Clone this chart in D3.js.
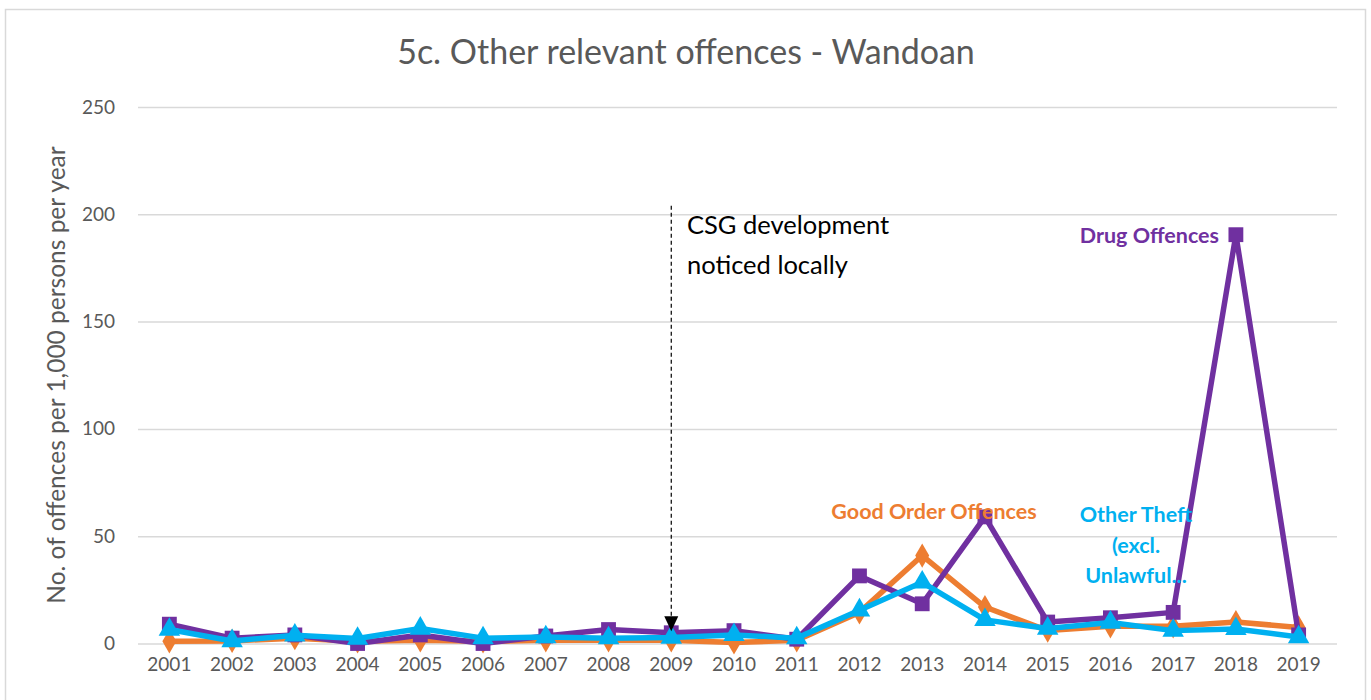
<!DOCTYPE html>
<html>
<head>
<meta charset="utf-8">
<script src="https://cdn.jsdelivr.net/npm/d3@7"></script>
<style>
  body { margin: 0; background: #fff; }
  text { font-family: Lato, "Open Sans", sans-serif; }
</style>
</head>
<body>
<script>
const years = ["2001","2002","2003","2004","2005","2006","2007","2008","2009","2010",
               "2011","2012","2013","2014","2015","2016","2017","2018","2019"]
const drugOffences = [9, 2.5, 4, 0, 4, 0, 3.5, 6.5, 5, 6, 2, 31.5, 18.5, 59, 10, 12, 14.5, 190.5, 4]
const goodOrder = [1, 1.2, 2.5, 1, 1.5, 1, 1.5, 1.5, 1.5, 0.5, 1.5, 14.5, 41, 17, 6, 8, 8, 10, 7.5]
const otherTheft = [6.5, 1.2, 3.8, 2.3, 7, 2.5, 3, 2.5, 2.8, 4, 2.5, 15.5, 28.5, 11, 7, 9.8, 6, 6.8, 3]
const yTicks = [0, 50, 100, 150, 200, 250]

const W = 1371, H = 700
const margin = { top: 107, right: 34, bottom: 57, left: 138 }
const width = W - margin.left - margin.right
const height = H - margin.top - margin.bottom

const svg = d3.select("body").append("svg")
    .attr("width", W)
    .attr("height", H)

// chart border
svg.append("rect")
    .attr("x", 5.5).attr("y", 9.5)
    .attr("width", 1360).attr("height", 700)
    .attr("fill", "none")
    .attr("stroke", "#d9d9d9")
    .attr("stroke-width", 1.5)

const g = svg.append("g")
    .attr("transform", "translate(" + margin.left + "," + margin.top + ")")

let x = d3.scaleBand()
    .domain(years)
    .range([0, width - 7])

let y = d3.scaleLinear()
    .domain([0, 250])
    .range([height + 0.5, 0])

// gridlines
g.append("g")
    .call(d3.axisLeft(y).tickValues(yTicks).tickSize(-width).tickPadding(23))
    .call(a => a.select(".domain").remove())
    .call(a => a.selectAll(".tick line").attr("stroke", "#d9d9d9").attr("stroke-width", 1.5))
    .call(a => a.selectAll(".tick text").attr("fill", "#595959").style("font-size", "19px"))

g.append("g")
    .attr("transform", "translate(0," + height + ")")
    .call(d3.axisBottom(x).tickSize(0).tickPadding(15))
    .call(a => a.select(".domain").remove())
    .call(a => a.selectAll(".tick text").attr("fill", "#595959").style("font-size", "19px"))

// title
svg.append("text")
    .attr("x", 686).attr("y", 64)
    .attr("text-anchor", "middle")
    .attr("fill", "#595959")
    .style("font-size", "34px")
    .text("5c. Other relevant offences - Wandoan")

svg.append("text")
    .attr("transform", "translate(65," + 375 + ") rotate(-90)")
    .attr("text-anchor", "middle")
    .attr("fill", "#595959")
    .style("font-size", "24.5px")
    .text("No. of offences per 1,000 persons per year")

const cx = d => x(d) + x.bandwidth() / 2

// annotation
const ax = cx("2009")
g.append("line")
    .attr("x1", ax).attr("x2", ax)
    .attr("y1", y(204)).attr("y2", y(8))
    .attr("stroke", "#000")
    .attr("stroke-width", 1.2)
    .attr("stroke-dasharray", "4,3")

const series = [
    { name: "Good Order Offences", values: goodOrder, color: "#ED7D31", shape: d3.symbolDiamond, size: 170 },
    { name: "Drug Offences", values: drugOffences, color: "#7030A0", shape: d3.symbolSquare, size: 220 },
    { name: "Other Theft", values: otherTheft, color: "#00B0F0", shape: d3.symbolTriangle, size: 200 }
]

const line = d3.line()
    .x((d, i) => cx(years[i]))
    .y(d => y(d))

series.forEach(s => {
    g.append("path")
        .datum(s.values)
        .attr("d", line)
        .attr("fill", "none")
        .attr("stroke", s.color)
        .attr("stroke-width", 5.5)
        .attr("stroke-linejoin", "round")

    g.append("g")
        .selectAll("path")
        .data(s.values)
        .join("path")
        .attr("transform", (d, i) => "translate(" + cx(years[i]) + "," + y(d) + ")")
        .attr("d", d3.symbol().type(s.shape).size(s.size))
        .attr("fill", s.color)
})

// arrow head
g.append("path")
    .attr("d", "M" + (ax - 7) + "," + (y(8) - 10) + "L" + (ax + 7) + "," + (y(8) - 10) + "L" + ax + "," + (y(8) + 5) + "Z")
    .attr("fill", "#000")

const note = svg.append("text")
    .attr("fill", "#000")
    .style("font-size", "25.5px")
note.append("tspan").attr("x", 687).attr("y", 234).text("CSG development")
note.append("tspan").attr("x", 687).attr("y", 274).text("noticed locally")

// series labels
svg.append("text")
    .attr("x", 1219).attr("y", 243)
    .attr("text-anchor", "end")
    .attr("fill", "#7030A0")
    .style("font-size", "21.5px")
    .style("font-weight", "bold")
    .text("Drug Offences")

svg.append("text")
    .attr("x", 934).attr("y", 519)
    .attr("text-anchor", "middle")
    .attr("fill", "#ED7D31")
    .style("font-size", "21.5px")
    .style("font-weight", "bold")
    .text("Good Order Offences")

const theft = svg.append("text")
    .attr("text-anchor", "middle")
    .attr("fill", "#00B0F0")
    .style("font-size", "21.5px")
    .style("font-weight", "bold")
;["Other Theft", "(excl.", "Unlawful..."].forEach((t, i) => {
    theft.append("tspan").attr("x", 1136).attr("y", 522 + i * 30.5).text(t)
})
</script>
</body>
</html>
